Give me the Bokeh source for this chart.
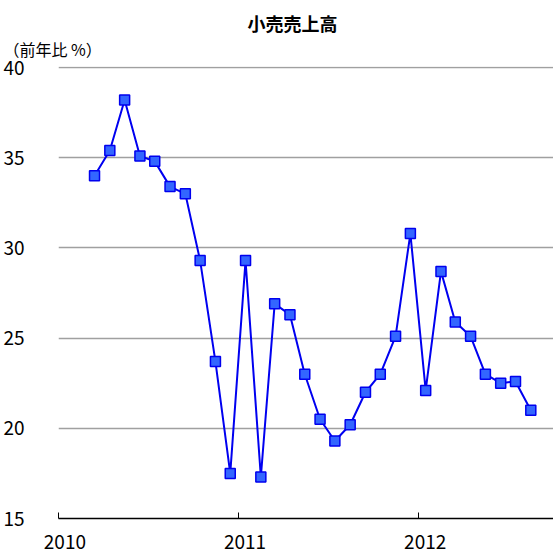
import pandas as pd
from bokeh.plotting import figure
from bokeh.models import (FixedTicker, CustomJSTickFormatter, Title, Range1d,
                          DatetimeAxis)
from bokeh.embed import file_html
from bokeh.resources import INLINE

# data: monthly retail sales, YoY %  (Mar 2010 - Aug 2012)
months = ["2010-03", "2010-04", "2010-05", "2010-06", "2010-07", "2010-08",
          "2010-09", "2010-10", "2010-11", "2010-12", "2011-01", "2011-02",
          "2011-03", "2011-04", "2011-05", "2011-06", "2011-07", "2011-08",
          "2011-09", "2011-10", "2011-11", "2011-12", "2012-01", "2012-02",
          "2012-03", "2012-04", "2012-05", "2012-06", "2012-07", "2012-08"]
values = [34.0, 35.4, 38.2, 35.1, 34.8, 33.4, 33.0, 29.3, 23.7, 17.5,
          29.3, 17.3, 26.9, 26.3, 23.0, 20.5, 19.3, 20.2, 22.0, 23.0,
          25.1, 30.8, 22.1, 28.7, 25.9, 25.1, 23.0, 22.5, 22.6, 21.0]
year_ticks = ["2010-01-01", "2011-01-01", "2012-01-01"]
year_label_pos = ["2010-01-14", "2011-01-14", "2012-01-14"]
y_ticks = [15, 20, 25, 30, 35, 40]

title_text = "小売売上高"
ylabel_text = "（前年比 %）"

# points plotted at mid-month
dates = pd.to_datetime(months) + pd.Timedelta(days=14)
tick_ms = [pd.Timestamp(t).value / 1e6 for t in year_ticks]
label_ms = [pd.Timestamp(t).value / 1e6 for t in year_label_pos]

FONT = "'Liberation Sans Narrow', 'Noto Sans CJK JP', sans-serif"
JP = "'Noto Sans CJK JP', sans-serif"

p = figure(width=553, height=556, output_backend="svg", toolbar_location=None,
           x_axis_type="datetime",
           x_range=Range1d(pd.Timestamp("2010-01-01"), pd.Timestamp("2012-09-30")),
           y_range=Range1d(15, 40.06),
           min_border_left=57, min_border_right=0, min_border_top=66,
           min_border_bottom=38)
p.outline_line_color = None
p.background_fill_color = "white"

p.line(dates, values, line_color="#0000f0", line_width=2)
p.scatter(dates, values, marker="square", size=10,
          fill_color="#3366ff", line_color="#0000ee", line_width=1.5)

# x axis: line + inward ticks at year starts
xa = p.xaxis[0]
xa.ticker = FixedTicker(ticks=tick_ms)
xa.formatter = CustomJSTickFormatter(code="return '';")
xa.axis_line_color = "black"
xa.axis_line_width = 1.5
xa.major_tick_in = 6
xa.major_tick_out = 0
xa.major_tick_line_color = "black"
xa.minor_tick_line_color = None
xa.major_label_standoff = 0
xa.major_label_text_font_size = "0px"

# year labels (slightly right of the year-start ticks, as in the original)
xl = DatetimeAxis(ticker=FixedTicker(ticks=label_ms),
                  formatter=CustomJSTickFormatter(code="return String(new Date(tick).getUTCFullYear());"),
                  axis_line_color=None, major_tick_line_color=None,
                  minor_tick_line_color=None, major_tick_in=0, major_tick_out=0,
                  major_label_standoff=16,
                  major_label_text_font=FONT, major_label_text_font_size="19px",
                  major_label_text_color="black")
p.add_layout(xl, "below")

ya = p.yaxis[0]
ya.ticker = FixedTicker(ticks=y_ticks)
ya.axis_line_color = None
ya.major_tick_line_color = None
ya.minor_tick_line_color = None
ya.major_label_standoff = 28
ya.major_label_text_font = FONT
ya.major_label_text_font_size = "19px"
ya.major_label_text_color = "black"

p.xgrid.grid_line_color = None
p.ygrid.ticker = FixedTicker(ticks=[20, 25, 30, 35, 40])
p.ygrid.grid_line_color = "#a0a0a0"
p.ygrid.grid_line_width = 1.5

# titles (first added sits closest to the frame)
p.add_layout(Title(text=ylabel_text, align="left", offset=-55, standoff=11,
                   text_font=JP, text_font_size="16px", text_font_style="normal",
                   text_color="black"), "above")
p.add_layout(Title(text=title_text, align="left", offset=189, standoff=-12,
                   text_font=JP, text_font_size="18px", text_font_style="bold",
                   text_color="black"), "above")

open("out.html", "w").write(file_html(p, INLINE))
